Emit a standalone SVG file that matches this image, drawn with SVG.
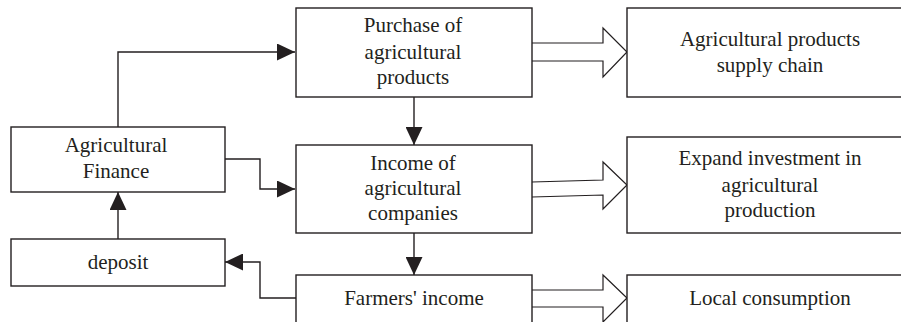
<svg xmlns="http://www.w3.org/2000/svg" width="901" height="322" viewBox="0 0 901 322">
<defs>
<style>
.box{fill:#fff;stroke:#231f20;stroke-width:1.4}
.ln{fill:none;stroke:#231f20;stroke-width:1.4}
.blk{fill:#fff;stroke:#231f20;stroke-width:1.2;stroke-linejoin:miter}
.t{font-family:'Liberation Serif','DejaVu Serif',serif;font-size:21px;fill:#231f20;text-anchor:middle}
</style>
<marker id="ah" markerWidth="18" markerHeight="17" refX="18" refY="8.5" orient="auto" markerUnits="userSpaceOnUse">
<path d="M0,0 L18,8.5 L0,17 Z" fill="#231f20"/>
</marker>
</defs>
<rect width="901" height="322" fill="#fff"/>
<g id="connectors">
<path class="ln" d="M118,127 V52 H295" marker-end="url(#ah)"/>
<path class="ln" d="M225,159 H260 V189 H295" marker-end="url(#ah)"/>
<path class="ln" d="M118,239 V192" marker-end="url(#ah)"/>
<path class="ln" d="M296,298 H260 V262 H225" marker-end="url(#ah)"/>
<path class="ln" d="M414,97 V145" marker-end="url(#ah)"/>
<path class="ln" d="M414,233 V275" marker-end="url(#ah)"/>
<path class="blk" d="M532,43 H603 V28 L627,52 L603,77 V61 H532"/>
<path class="blk" d="M532,182 L603,180 V162 L627,185 L603,209 V195 L532,197"/>
<path class="blk" d="M532,290 H603 V275 L627,298 L603,322 V307 H532"/>
</g>
<g class="t" font-family="Liberation Serif, DejaVu Serif, serif">
<g id="agri-finance"><rect class="box" x="11" y="127" width="214" height="65"/><text x="116" y="152">Agricultural</text><text x="116" y="178">Finance</text></g>
<g id="deposit"><rect class="box" x="11" y="239" width="214" height="47"/><text x="118" y="269">deposit</text></g>
<g id="purchase"><rect class="box" x="296" y="8" width="236" height="89"/><text x="413" y="32">Purchase of</text><text x="413" y="59">agricultural</text><text x="413" y="84">products</text></g>
<g id="income-companies"><rect class="box" x="296" y="145" width="236" height="88"/><text x="413" y="170">Income of</text><text x="413" y="195">agricultural</text><text x="413" y="220">companies</text></g>
<g id="farmers-income"><rect class="box" x="296" y="275" width="236" height="60"/><text x="414" y="305">Farmers' income</text></g>
<g id="supply-chain"><rect class="box" x="627" y="8" width="290" height="89"/><text x="770" y="46">Agricultural products</text><text x="770" y="72">supply chain</text></g>
<g id="expand-investment"><rect class="box" x="627" y="137" width="290" height="96"/><text x="770" y="165">Expand investment in</text><text x="770" y="192">agricultural</text><text x="770" y="217">production</text></g>
<g id="local-consumption"><rect class="box" x="627" y="275" width="290" height="60"/><text x="770" y="305">Local consumption</text></g>
</g>
</svg>
